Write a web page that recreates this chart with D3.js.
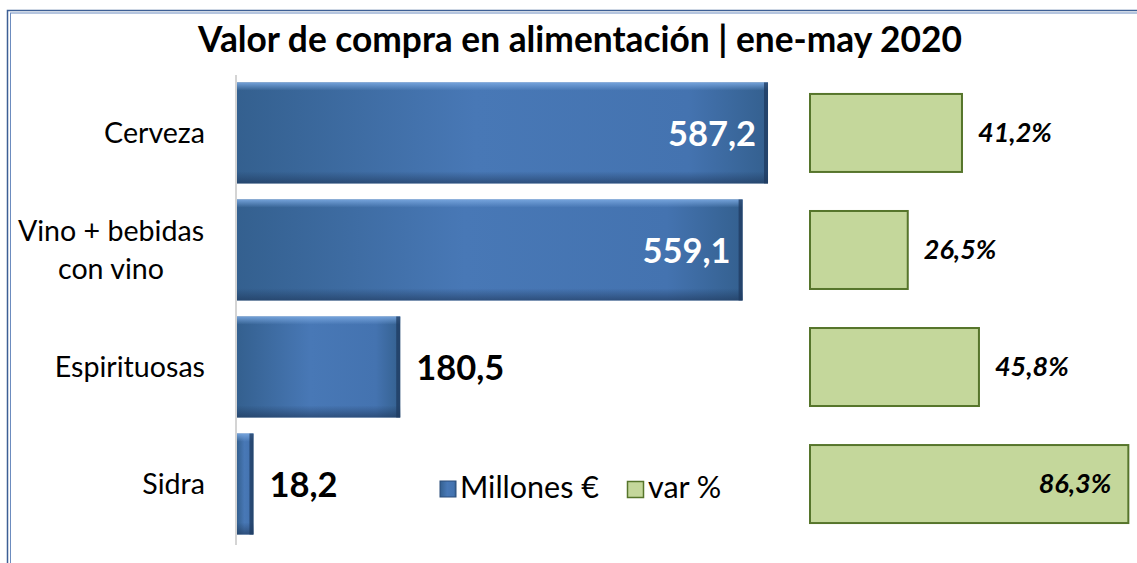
<!DOCTYPE html>
<html>
<head>
<meta charset="utf-8">
<script src="https://cdn.jsdelivr.net/npm/d3@7"></script>
<style>
  html, body { margin: 0; padding: 0; background: #fff; }
  svg { display: block; font-family: Lato, "Open Sans", sans-serif; }
</style>
</head>
<body>
<div id="chart"></div>
<script>
// datos
var categorias = ["Cerveza", "Vino + bebidas con vino", "Espirituosas", "Sidra"];
var etiquetas = [["Cerveza"], ["Vino + bebidas", "con vino"], ["Espirituosas"], ["Sidra"]];
var millones = [587.2, 559.1, 180.5, 18.2];
var variacion = [41.2, 26.5, 45.8, 86.3];
var titulo = "Valor de compra en alimentación | ene-may 2020";
var leyenda = ["Millones €", "var %"];

var width = 1137, height = 563;
var svg = d3.select("#chart").append("svg")
    .attr("width", width)
    .attr("height", height);

var defs = svg.append("defs");
// degradado horizontal de la barra azul
var gh = defs.append("linearGradient").attr("id", "azulH").attr("x1", 0).attr("x2", 1).attr("y1", 0).attr("y2", 0);
gh.append("stop").attr("offset", "0%").attr("stop-color", "#34608f");
gh.append("stop").attr("offset", "45%").attr("stop-color", "#4878b6");
gh.append("stop").attr("offset", "85%").attr("stop-color", "#4473b0");
gh.append("stop").attr("offset", "100%").attr("stop-color", "#34608f");
// bisel vertical
var gv = defs.append("linearGradient").attr("id", "azulV").attr("x1", 0).attr("x2", 0).attr("y1", 0).attr("y2", 1);
gv.append("stop").attr("offset", "0%").attr("stop-color", "#7aa8e0").attr("stop-opacity", 0.9);
gv.append("stop").attr("offset", "8%").attr("stop-color", "#7aa8e0").attr("stop-opacity", 0.0);
gv.append("stop").attr("offset", "88%").attr("stop-color", "#1d3557").attr("stop-opacity", 0.0);
gv.append("stop").attr("offset", "100%").attr("stop-color", "#1d3557").attr("stop-opacity", 0.6);

// marco doble
svg.append("rect").attr("x", 7.5).attr("y", 10.5).attr("width", 1160).attr("height", 600)
    .attr("fill", "none").attr("stroke", "#3d5f95").attr("stroke-width", 1.5);
svg.append("rect").attr("x", 10.5).attr("y", 13).attr("width", 1160).attr("height", 600)
    .attr("fill", "none").attr("stroke", "#6c8cbf").attr("stroke-width", 1);

svg.append("text")
    .attr("x", 580).attr("y", 52)
    .attr("text-anchor", "middle")
    .attr("font-size", 35.3).attr("font-weight", "bold")
    .attr("fill", "#000")
    .text(titulo);

var y = d3.scaleBand()
    .domain(categorias)
    .range([74.5, 542.5])
    .paddingInner(0.137)
    .paddingOuter(0.068);

var x = d3.scaleLinear().domain([0, 650]).range([237, 824.8]);
var x2 = d3.scaleLinear().domain([0, 90]).range([810, 1142]);

// eje vertical
svg.append("line")
    .attr("x1", 236).attr("x2", 236).attr("y1", 75).attr("y2", 545)
    .attr("stroke", "#d4d4d4").attr("stroke-width", 2);

// etiquetas de categoria
var cat = svg.selectAll("text.cat")
    .data(categorias)
    .enter()
    .append("text")
    .attr("class", "cat")
    .attr("font-size", 28.6)
    .attr("fill", "#000")
    .attr("text-anchor", "middle");
cat.each(function(d, i) {
    var lineas = etiquetas[i];
    var t = d3.select(this);
    var cy = y(d) + y.bandwidth() / 2;
    var y0 = cy - (lineas.length - 1) * 19 + 10;
    lineas.forEach(function(l, j) {
        t.append("tspan").attr("x", 111).attr("y", y0 + j * 38).text(l);
    });
});
cat.filter(function(d, i) { return etiquetas[i].length == 1; })
    .attr("text-anchor", "end")
    .selectAll("tspan").attr("x", 205);

// barras azules
var barras = svg.selectAll("g.azul")
    .data(categorias)
    .enter()
    .append("g")
    .attr("class", "azul");
barras.append("rect")
    .attr("x", x(0))
    .attr("y", function(d) { return y(d); })
    .attr("width", function(d, i) { return x(millones[i]) - x(0); })
    .attr("height", y.bandwidth())
    .attr("fill", "url(#azulH)");
barras.append("rect")
    .attr("x", x(0))
    .attr("y", function(d) { return y(d); })
    .attr("width", function(d, i) { return x(millones[i]) - x(0); })
    .attr("height", y.bandwidth())
    .attr("fill", "url(#azulV)");
barras.append("rect")
    .attr("x", function(d, i) { return x(millones[i]) - 4; })
    .attr("y", function(d) { return y(d); })
    .attr("width", 4)
    .attr("height", y.bandwidth())
    .attr("fill", "#1f3b60").attr("opacity", 0.75);

svg.selectAll("text.valor")
    .data(categorias)
    .enter()
    .append("text")
    .attr("class", "valor")
    .attr("font-size", 34.5).attr("font-weight", "bold")
    .attr("y", function(d) { return y(d) + y.bandwidth() / 2 + 13; })
    .attr("x", function(d, i) { return millones[i] > 300 ? x(millones[i]) - 12 : x(millones[i]) + 16; })
    .attr("text-anchor", function(d, i) { return millones[i] > 300 ? "end" : "start"; })
    .attr("fill", function(d, i) { return millones[i] > 300 ? "#fff" : "#000"; })
    .text(function(d, i) { return millones[i].toFixed(1).replace(".", ","); });

// barras verdes
var gh2 = 78;
svg.selectAll("rect.verde")
    .data(categorias)
    .enter()
    .append("rect")
    .attr("class", "verde")
    .attr("x", x2(0))
    .attr("y", function(d) { return y(d) + (y.bandwidth() - gh2) / 2; })
    .attr("width", function(d, i) { return x2(variacion[i]) - x2(0); })
    .attr("height", gh2)
    .attr("fill", "#c4d79b")
    .attr("stroke", "#56752b").attr("stroke-width", 2);

svg.selectAll("text.pct")
    .data(categorias)
    .enter()
    .append("text")
    .attr("class", "pct")
    .attr("font-size", 27).attr("font-weight", "bold").attr("font-style", "italic")
    .attr("fill", "#000")
    .attr("y", function(d) { return y(d) + y.bandwidth() / 2 + 9; })
    .attr("x", function(d, i) { return variacion[i] > 80 ? x2(variacion[i]) - 17 : x2(variacion[i]) + 16; })
    .attr("text-anchor", function(d, i) { return variacion[i] > 80 ? "end" : "start"; })
    .text(function(d, i) { return variacion[i].toFixed(1).replace(".", ",") + "%"; });

// leyenda
var ley = svg.append("g").attr("transform", "translate(440,480)");
ley.append("rect").attr("x", 0).attr("y", 1).attr("width", 16).attr("height", 16)
    .attr("fill", "url(#azulH)").attr("stroke", "#2a4d7a").attr("stroke-width", 1);
ley.append("text").attr("x", 20).attr("y", 18).attr("font-size", 30.5).text(leyenda[0]);
ley.append("rect").attr("x", 187.5).attr("y", 1.5).attr("width", 16).attr("height", 16)
    .attr("fill", "#c4d79b").attr("stroke", "#56752b").attr("stroke-width", 1.5);
ley.append("text").attr("x", 208).attr("y", 18).attr("font-size", 30.5).text(leyenda[1]);
</script>
</body>
</html>
